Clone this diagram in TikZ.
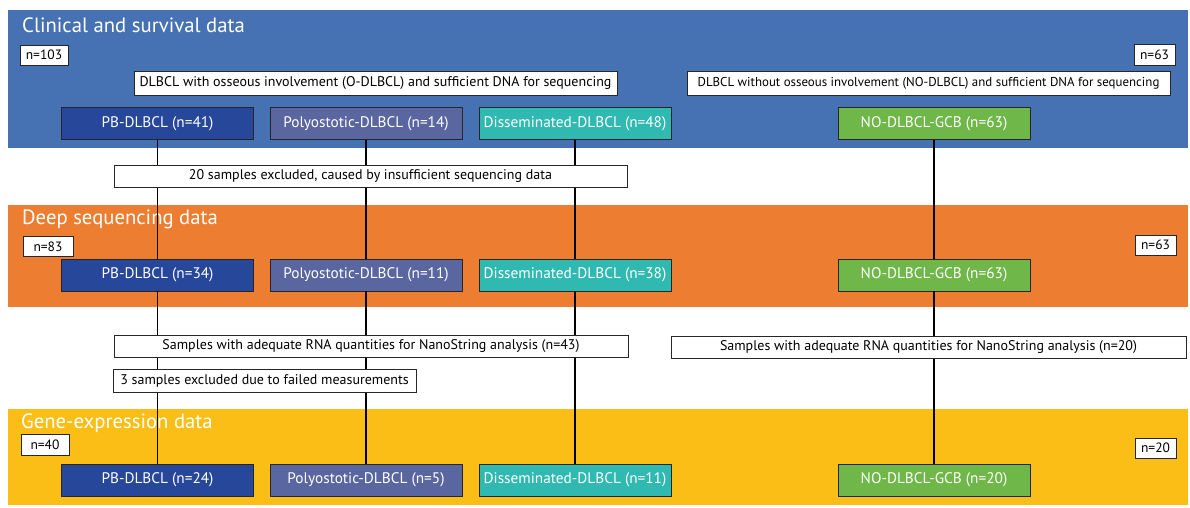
\documentclass[tikz,border=0pt]{standalone}
\usepackage{fontspec}
\setmainfont{PT Sans}
\definecolor{bandblue}{RGB}{70,114,180}
\definecolor{bandorange}{RGB}{237,125,49}
\definecolor{bandyellow}{RGB}{251,190,22}
\definecolor{pbblue}{RGB}{39,71,154}
\definecolor{polyblue}{RGB}{90,102,160}
\definecolor{dissteal}{RGB}{47,185,177}
\definecolor{nogreen}{RGB}{112,183,74}
\begin{document}
\begin{tikzpicture}[x=1pt,y=-1pt,
  bandtitle/.style={anchor=base west,text=white,inner sep=0,font=\fontsize{20.7}{24}\selectfont},
  grpbox/.style={draw=black!85,line width=0.8pt,minimum width=192pt,minimum height=32pt,inner sep=0,text=white,font=\fontsize{15.3}{18}\selectfont},
  wbox/.style={draw=black!85,fill=white,line width=0.8pt,inner sep=0,font=\fontsize{14}{16}\selectfont},
  nbox/.style={wbox,font=\fontsize{13.5}{16}\selectfont},
  conn/.style={line width=1.8pt,black}]
\useasboundingbox (0,0) rectangle (1190,507);
\fill[white] (0,0) rectangle (1190,507);
% bands
\fill[bandblue] (8,10) rectangle (1188,148);
\fill[bandorange] (8,205) rectangle (1188,307);
\fill[bandyellow] (8,409) rectangle (1188,505);
\node[bandtitle] (t1) at (22,32) {Clinical and survival data};
\node[bandtitle] (t2) at (22,224) {Deep sequencing data};
\node[bandtitle] (t3) at (21,428) {Gene-expression data};
% group boxes
\node[grpbox,fill=pbblue] (pb1) at (157.5,123.5) {PB-DLBCL (n=41)};
\node[grpbox,fill=polyblue] (po1) at (366,123.5) {Polyostotic-DLBCL (n=14)};
\node[grpbox,fill=dissteal] (di1) at (575,123.5) {Disseminated-DLBCL (n=48)};
\node[grpbox,fill=nogreen] (no1) at (934,123.5) {NO-DLBCL-GCB (n=63)};
\node[grpbox,fill=pbblue] (pb2) at (157.5,275) {PB-DLBCL (n=34)};
\node[grpbox,fill=polyblue] (po2) at (366,275) {Polyostotic-DLBCL (n=11)};
\node[grpbox,fill=dissteal] (di2) at (575,275) {Disseminated-DLBCL (n=38)};
\node[grpbox,fill=nogreen] (no2) at (934,275) {NO-DLBCL-GCB (n=63)};
\node[grpbox,fill=pbblue] (pb3) at (157.5,480) {PB-DLBCL (n=24)};
\node[grpbox,fill=polyblue] (po3) at (366,480) {Polyostotic-DLBCL (n=5)};
\node[grpbox,fill=dissteal] (di3) at (575,480) {Disseminated-DLBCL (n=11)};
\node[grpbox,fill=nogreen] (no3) at (934,480) {NO-DLBCL-GCB (n=20)};
% connectors
\draw[conn] (pb1.south) -- (pb2.north);
\draw[conn] (po1.south) -- (po2.north);
\draw[conn] (di1.south) -- (di2.north);
\draw[conn] (no1.south) -- (no2.north);
\draw[conn] (pb2.south) -- (pb3.north);
\draw[conn] (po2.south) -- (po3.north);
\draw[conn] (di2.south) -- (di3.north);
\draw[conn] (no2.south) -- (no3.north);
% white boxes
\node[nbox,minimum width=48pt,minimum height=20pt] (n103) at (44,55) {n=103};
\node[nbox,minimum width=41pt,minimum height=21pt] (n63a) at (1154.5,54.5) {n=63};
\node[wbox,minimum width=483pt,minimum height=24pt] (odl) at (375.5,83) {DLBCL with osseous involvement (O-DLBCL) and sufficient DNA for sequencing};
\node[wbox,minimum width=483pt,minimum height=24pt,font=\fontsize{12.9}{15}\selectfont] (nodl) at (928.5,83) {DLBCL without osseous involvement (NO-DLBCL) and sufficient DNA for sequencing};
\node[wbox,minimum width=513pt,minimum height=22pt] (ex20) at (370.5,176) {20 samples excluded, caused by insufficient sequencing data};
\node[nbox,minimum width=50pt,minimum height=20pt] (n83) at (48,246.5) {n=83};
\node[nbox,minimum width=41pt,minimum height=20pt] (n63b) at (1155.5,245) {n=63};
\node[wbox,minimum width=514pt,minimum height=22pt] (rna43) at (371,346) {Samples with adequate RNA quantities for NanoString analysis (n=43)};
\node[wbox,minimum width=515pt,minimum height=22pt] (rna20) at (928.5,347) {Samples with adequate RNA quantities for NanoString analysis (n=20)};
\node[wbox,minimum width=303pt,minimum height=23pt] (ex3) at (264.5,380.5) {3 samples excluded due to failed measurements};
\node[nbox,minimum width=48pt,minimum height=21pt] (n40) at (45,444.5) {n=40};
\node[nbox,minimum width=41pt,minimum height=20pt] (n20) at (1155.5,448) {n=20};
\end{tikzpicture}
\end{document}
